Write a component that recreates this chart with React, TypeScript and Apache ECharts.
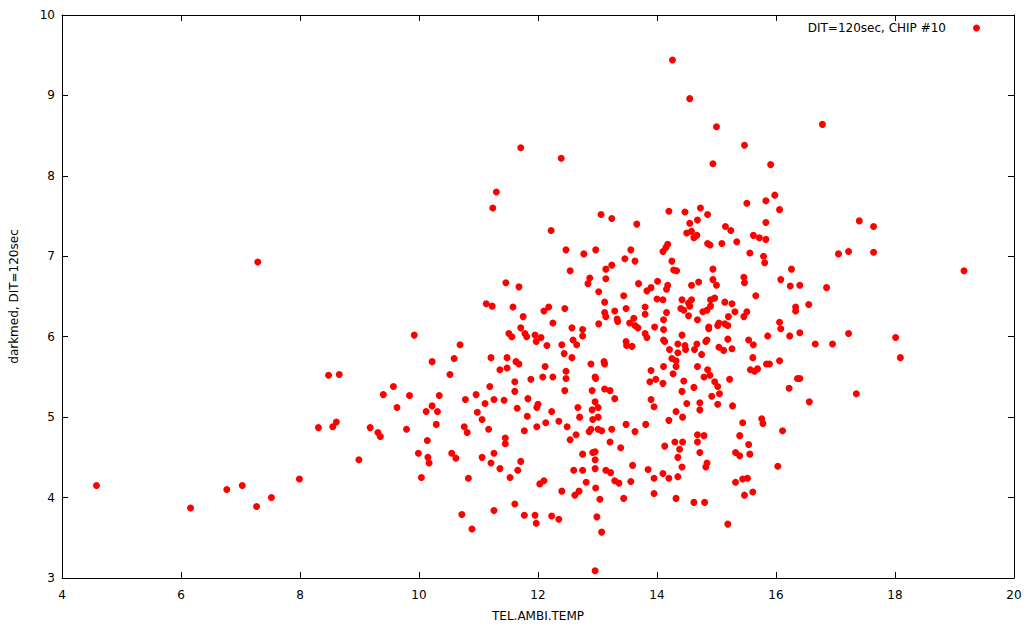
import React, { useEffect, useRef } from "react";
import * as echarts from "echarts";

const seriesName = "DIT=120sec, CHIP #10";
const xAxisTitle = "TEL.AMBI.TEMP";
const yAxisTitle = "darkmed, DIT=120sec";
const xTicks = { min: 4, max: 20, interval: 2 };
const yTicks = { min: 3, max: 10, interval: 1 };

// [TEL.AMBI.TEMP, darkmed]
const pointsHigh: [number, number][] = [
  [11.71, 8.35], [11.30, 7.80], [14.26, 9.44], [14.55, 8.96], [15.00, 8.61], [15.47, 8.38],
  [12.39, 8.22], [14.94, 8.15], [15.91, 8.14], [15.98, 7.76], [16.78, 8.64],
];

const pointsLeftMid: [number, number][] = [
  [7.29, 6.93], [11.24, 7.60], [11.46, 6.67], [11.68, 6.62], [11.13, 6.41], [11.23, 6.38],
  [11.58, 6.37], [11.75, 6.25], [11.71, 6.11], [9.92, 6.02], [11.51, 6.04], [11.56, 6.00],
  [11.78, 6.04], [11.81, 6.00], [11.95, 6.02], [11.97, 5.94], [10.69, 5.90], [11.21, 5.74],
  [11.48, 5.74], [10.22, 5.69], [10.59, 5.73], [11.63, 5.69], [11.68, 5.66], [8.48, 5.52],
  [8.66, 5.53], [10.52, 5.53], [11.36, 5.59], [11.48, 5.61], [11.61, 5.44], [11.88, 5.47],
  [9.57, 5.38], [11.19, 5.38],
];

const pointsCoreMid: [number, number][] = [
  [15.51, 7.66], [15.83, 7.69], [13.06, 7.52], [13.24, 7.47], [14.20, 7.56], [14.47, 7.55],
  [14.73, 7.60], [14.85, 7.52], [13.66, 7.40], [14.55, 7.41], [14.68, 7.45], [15.83, 7.42],
  [12.22, 7.32], [14.50, 7.29], [14.58, 7.31], [14.62, 7.23], [14.67, 7.26], [15.15, 7.37],
  [15.24, 7.32], [15.62, 7.26], [15.72, 7.23], [15.83, 7.21], [12.47, 7.08], [12.77, 7.03],
  [12.97, 7.08], [13.56, 7.08], [13.46, 6.97], [13.63, 6.94], [14.10, 7.06], [14.15, 7.11],
  [14.18, 7.15], [14.25, 6.94], [14.85, 7.16], [14.89, 7.14], [15.09, 7.16], [15.34, 7.18],
  [15.56, 7.04], [15.79, 7.00], [15.81, 6.92], [12.54, 6.82], [13.14, 6.84], [13.24, 6.89],
  [13.14, 6.72], [12.87, 6.73], [12.84, 6.66], [14.28, 6.83], [14.33, 6.82], [14.94, 6.84],
  [15.46, 6.74], [15.47, 6.67], [13.02, 6.56], [13.69, 6.66], [13.83, 6.57], [13.90, 6.61],
  [14.01, 6.69], [14.18, 6.64], [14.16, 6.59], [14.58, 6.64], [14.70, 6.68], [14.94, 6.71],
  [15.00, 6.64], [13.44, 6.51], [15.66, 6.51], [13.12, 6.43], [14.00, 6.47], [14.10, 6.46],
  [14.42, 6.46], [14.40, 6.35], [14.45, 6.33], [14.53, 6.42], [14.58, 6.46], [14.55, 6.38],
  [14.90, 6.46], [14.97, 6.48], [15.14, 6.43], [15.26, 6.41], [12.10, 6.32], [12.18, 6.37],
  [12.45, 6.35], [13.12, 6.30], [13.14, 6.25], [13.29, 6.32], [13.48, 6.35], [13.80, 6.37],
  [13.80, 6.28], [14.16, 6.30], [14.53, 6.26], [14.77, 6.31], [14.84, 6.33], [14.90, 6.38],
  [15.31, 6.31], [15.51, 6.31], [15.46, 6.25], [15.20, 6.25], [12.25, 6.17], [13.02, 6.16],
  [13.33, 6.22], [13.34, 6.19], [13.61, 6.23], [13.54, 6.17], [13.63, 6.14], [13.68, 6.11],
  [13.96, 6.12], [14.11, 6.21], [14.11, 6.09], [14.68, 6.21], [14.87, 6.12], [14.87, 6.10],
  [15.02, 6.14], [15.04, 6.17], [15.19, 6.14], [15.14, 6.16], [12.57, 6.11], [12.75, 6.09],
  [12.75, 6.01], [12.05, 5.99], [12.15, 5.89], [12.40, 5.90], [12.59, 5.96], [12.65, 5.90],
  [13.48, 5.94], [13.49, 5.89], [13.58, 5.88], [13.80, 6.04], [13.83, 5.99], [14.11, 5.96],
  [14.13, 5.94], [14.42, 6.02], [14.21, 5.84], [14.35, 5.91], [14.35, 5.80], [14.47, 5.89],
  [14.48, 5.84], [14.63, 5.84], [14.67, 5.91], [14.82, 5.94], [14.84, 5.96], [15.04, 5.87],
  [15.12, 5.83], [15.19, 5.97], [15.26, 5.85], [15.54, 5.96], [15.62, 5.90], [15.86, 6.01],
  [12.44, 5.79], [12.57, 5.74], [14.75, 5.78], [14.25, 5.73], [14.32, 5.70], [14.32, 5.63],
  [14.11, 5.63], [14.68, 5.63], [15.61, 5.74], [15.84, 5.66], [15.89, 5.66], [15.57, 5.59],
  [15.64, 5.57], [15.69, 5.60], [12.12, 5.63], [12.08, 5.50], [12.25, 5.50], [12.47, 5.57],
  [12.47, 5.48], [12.89, 5.66], [13.11, 5.69], [13.12, 5.66], [12.96, 5.50], [12.97, 5.48],
  [13.90, 5.58], [13.88, 5.44], [13.98, 5.47], [14.10, 5.42], [14.27, 5.54], [14.45, 5.45],
  [14.79, 5.50], [14.85, 5.59], [14.89, 5.52], [14.97, 5.44], [15.02, 5.38], [15.22, 5.47],
  [12.45, 5.33], [12.91, 5.33], [13.12, 5.35], [13.21, 5.33], [14.42, 5.32], [14.62, 5.37],
  [15.05, 5.29],
];

const pointsRight: [number, number][] = [
  [16.06, 7.58], [17.40, 7.44], [17.64, 7.37], [17.05, 7.03], [17.22, 7.06], [17.64, 7.05],
  [16.26, 6.84], [19.16, 6.82], [16.08, 6.71], [16.24, 6.63], [16.40, 6.64], [16.85, 6.61],
  [16.55, 6.40], [16.33, 6.37], [16.33, 6.32], [16.06, 6.18], [16.08, 6.10], [16.23, 6.01],
  [16.40, 6.05], [17.22, 6.04], [16.66, 5.91], [16.95, 5.91], [18.01, 5.99], [18.09, 5.74],
  [16.06, 5.70], [16.36, 5.48], [16.40, 5.48], [16.22, 5.36], [17.35, 5.29], [16.56, 5.19],
  [16.11, 4.83], [16.03, 4.39],
];

const pointsFarLeft: [number, number][] = [
  [4.58, 4.15], [6.16, 3.87], [6.77, 4.10], [7.03, 4.15], [7.27, 3.89], [7.52, 4.00], [7.99, 4.23],
];

const pointsLeftLow: [number, number][] = [
  [8.31, 4.87], [8.55, 4.88], [8.61, 4.94], [8.99, 4.47], [9.18, 4.87], [9.31, 4.81],
  [9.35, 4.76], [9.40, 5.28], [9.63, 5.12], [9.79, 4.85], [9.84, 5.27], [9.99, 4.55],
  [10.04, 4.25], [10.12, 5.07], [10.14, 4.71], [10.15, 4.50], [10.17, 4.43], [10.22, 5.14],
  [10.29, 4.91], [10.31, 5.07], [10.34, 5.27], [10.55, 4.55], [10.62, 4.49], [10.72, 3.79],
  [10.76, 4.88], [10.78, 5.22], [10.81, 4.81], [10.83, 4.24], [10.89, 3.61], [10.96, 5.28],
  [10.98, 5.06], [11.06, 4.97], [11.06, 4.50], [11.11, 5.17], [11.17, 4.85], [11.21, 4.43],
  [11.26, 5.22], [11.26, 4.55], [11.26, 3.84], [11.36, 4.36], [11.43, 5.21], [11.45, 4.74],
  [11.45, 4.67], [11.53, 4.25], [11.61, 5.32], [11.61, 3.92], [11.65, 5.11], [11.66, 4.34],
  [11.71, 4.45], [11.77, 4.83], [11.77, 3.78], [11.82, 5.01], [11.83, 5.23], [11.95, 3.78],
  [11.97, 3.68], [11.98, 4.88], [11.98, 5.12], [12.00, 5.16], [12.03, 4.17], [12.10, 4.21],
];

const pointsCoreLow: [number, number][] = [
  [12.13, 4.93], [12.23, 5.07], [12.23, 3.77], [12.35, 4.95], [12.35, 3.73], [12.40, 4.08],
  [12.49, 4.88], [12.54, 4.72], [12.60, 4.34], [12.62, 4.03], [12.64, 4.78], [12.67, 5.12],
  [12.69, 4.08], [12.70, 5.00], [12.75, 4.54], [12.75, 4.34], [12.81, 4.19], [12.86, 4.82],
  [12.89, 4.85], [12.91, 5.09], [12.92, 4.97], [12.92, 4.56], [12.96, 5.19], [12.96, 4.57],
  [12.96, 4.47], [12.96, 4.36], [12.96, 3.09], [12.97, 4.12], [12.99, 3.76], [13.01, 5.12],
  [13.01, 5.00], [13.01, 4.85], [13.04, 3.98], [13.07, 3.57], [13.07, 4.83], [13.14, 4.34],
  [13.21, 4.69], [13.22, 4.31], [13.24, 4.85], [13.29, 5.23], [13.29, 4.21], [13.36, 4.18],
  [13.39, 4.62], [13.44, 3.99], [13.48, 4.91], [13.56, 4.20], [13.59, 4.40], [13.63, 4.82],
  [13.81, 4.91], [13.85, 4.35], [13.90, 5.22], [13.95, 5.13], [13.95, 4.24], [13.95, 4.05],
  [14.10, 4.30], [14.13, 4.64], [14.20, 4.96], [14.20, 4.24], [14.30, 4.69], [14.32, 5.07],
  [14.32, 3.99], [14.35, 4.50], [14.35, 4.26], [14.38, 4.60], [14.42, 4.38], [14.43, 5.00],
  [14.43, 4.69], [14.50, 5.17], [14.62, 3.94], [14.68, 4.78], [14.68, 4.69], [14.72, 4.56],
  [14.72, 5.18], [14.72, 5.09], [14.79, 4.77], [14.80, 3.94], [14.82, 4.38], [14.84, 4.43],
  [14.92, 5.26], [15.02, 5.16], [15.19, 3.67], [15.27, 5.14], [15.32, 4.56], [15.39, 4.52],
  [15.32, 4.19], [15.39, 4.77], [15.44, 4.93], [15.44, 4.23], [15.52, 4.24], [15.47, 4.03],
  [15.54, 4.66], [15.56, 4.54], [15.61, 4.07], [15.76, 4.98], [15.78, 4.92],
];

const allPoints = [
  ...pointsHigh, ...pointsLeftMid, ...pointsCoreMid, ...pointsRight,
  ...pointsFarLeft, ...pointsLeftLow, ...pointsCoreLow,
];

const FONT = "DejaVu Sans";

function axisPair(base: any, pos: string, isX: boolean) {
  return [
    {
      ...base,
      position: isX ? "bottom" : "left",
      axisLine: { show: true, onZero: false, lineStyle: { color: "#000", width: 1 } },
      axisTick: { show: true, inside: true, length: 6, lineStyle: { color: "#000" } },
      axisLabel: {
        show: true, color: "#000", fontFamily: FONT, fontSize: 12,
        margin: isX ? 11 : 7,
      },
      splitLine: { show: false },
    },
    {
      ...base,
      position: pos,
      name: "",
      axisLine: { show: true, onZero: false, lineStyle: { color: "#000", width: 1 } },
      axisTick: { show: true, inside: true, length: 6, lineStyle: { color: "#000" } },
      axisLabel: { show: false },
      splitLine: { show: false },
    },
  ];
}

export default function App() {
  const ref = useRef<HTMLDivElement>(null);
  useEffect(() => {
    if (!ref.current) return;
    const chart = echarts.init(ref.current, undefined, { renderer: "svg" });
    const xBase = {
      type: "value", min: xTicks.min, max: xTicks.max, interval: xTicks.interval,
      name: xAxisTitle, nameLocation: "middle", nameGap: 32,
      nameTextStyle: { color: "#000", fontFamily: FONT, fontSize: 12 },
    };
    const yBase = {
      type: "value", min: yTicks.min, max: yTicks.max, interval: yTicks.interval,
      name: yAxisTitle, nameLocation: "middle", nameGap: 42, nameRotate: 90,
      nameTextStyle: { color: "#000", fontFamily: FONT, fontSize: 12 },
    };
    chart.setOption({
      animation: false,
      backgroundColor: "#fff",
      textStyle: { fontFamily: FONT },
      grid: { left: 58, right: 22, top: 15, bottom: 47, containLabel: false },
      legend: {
        show: true,
        data: [{ name: seriesName, icon: "circle" }],
        right: 51,
        top: 17,
        align: "right",
        itemWidth: 7,
        itemHeight: 7,
        textStyle: { color: "#000", fontFamily: FONT, fontSize: 12, padding: [0, 22, 0, 0] },
        selectedMode: false,
      },
      xAxis: axisPair(xBase, "top", true),
      yAxis: axisPair(yBase, "right", false),
      series: [
        {
          name: seriesName,
          type: "scatter",
          xAxisIndex: 0,
          yAxisIndex: 0,
          symbol: "circle",
          symbolSize: 7,
          itemStyle: { color: "#ff0000", opacity: 1 },
          data: allPoints,
        },
      ],
    });
    return () => chart.dispose();
  }, []);
  return (
    <div
      ref={ref}
      style={{ position: "fixed", left: 0, top: 0, width: 1036, height: 627, background: "#fff" }}
    />
  );
}
